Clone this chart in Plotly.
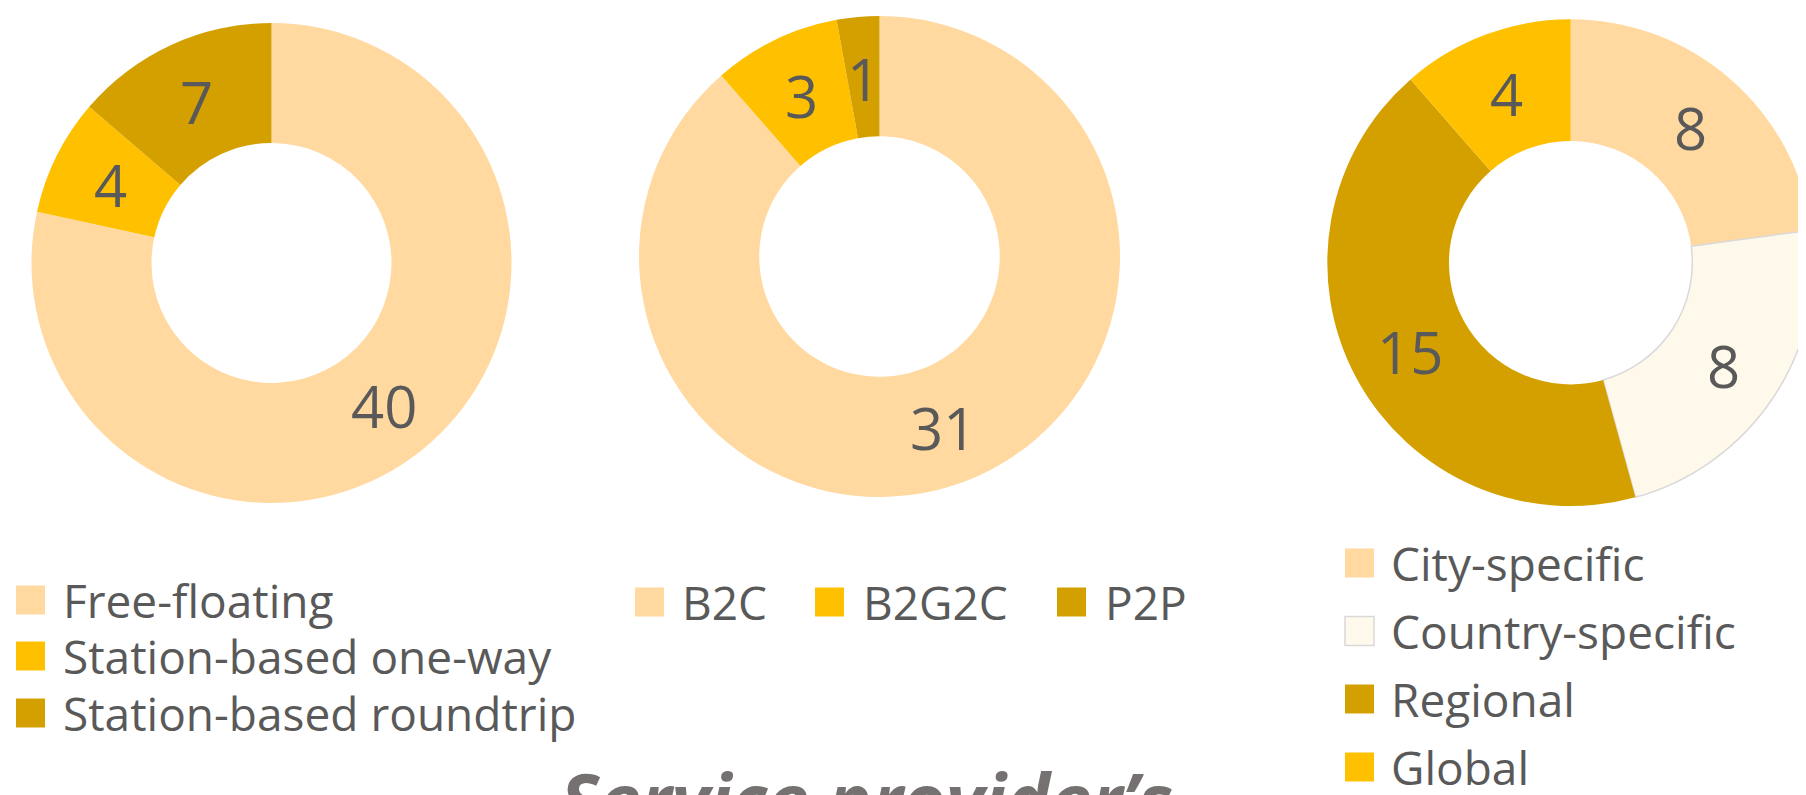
import math
import plotly.graph_objects as go

# ---------------- data ----------------
model_labels = ["Free-floating", "Station-based one-way", "Station-based roundtrip"]
model_values = [40, 4, 7]

business_labels = ["B2C", "B2G2C", "P2P"]
business_values = [31, 3, 1]

scope_labels = ["City-specific", "Country-specific", "Regional", "Global"]
scope_values = [8, 8, 15, 4]

bottom_title = "Service provider’s"

# ---------------- style / layout ----------------
W, H = 1806, 795
OFF = 8  # page margin of the html body; coordinates below are page pixels
PEACH, GOLD, DARK, CREAM, EDGE = "#FFD9A0", "#FFC000", "#D4A000", "#FFF9EC", "#D9D9D9"
TEXT = "#595959"
FONT = "Open Sans"
LABEL_SIZE = 58
LEGEND_SIZE = 46
SQ = 29

donuts = [
    dict(labels=model_labels, values=model_values, colors=[PEACH, GOLD, DARK],
         edges=[None, None, None], cx=271.5, cy=263.0, r=240.0),
    dict(labels=business_labels, values=business_values, colors=[PEACH, GOLD, DARK],
         edges=[None, None, None], cx=879.5, cy=256.5, r=240.5),
    dict(labels=scope_labels, values=scope_values, colors=[PEACH, CREAM, DARK, GOLD],
         edges=[None, EDGE, None, None], cx=1570.7, cy=262.7, r=243.4),
]
HOLE = 0.5

legends = [
    # (donut index, list of (square x0, text x, center y)) in page pixels
    (0, [(16, 61, 600), (16, 61, 656), (16, 61, 713)]),
    (1, [(635, 680, 602), (815, 861, 602), (1057, 1103, 602)]),
    (2, [(1345, 1389, 563), (1345, 1389, 631), (1345, 1389, 699), (1345, 1389, 767)]),
]


def px(x):
    return (x - OFF) / W


def py(y):
    return 1 - (y - OFF) / H


fig = go.Figure()
annotations = []
shapes = []

for d in donuts:
    cx, cy, r = d["cx"], d["cy"], d["r"]
    fig.add_trace(go.Pie(
        labels=d["labels"], values=d["values"], hole=HOLE, sort=False,
        direction="clockwise", rotation=0, textinfo="none", hoverinfo="label+value",
        showlegend=False,
        marker=dict(colors=d["colors"],
                    line=dict(color=[e or "rgba(0,0,0,0)" for e in d["edges"]],
                              width=[1.5 if e else 0 for e in d["edges"]])),
        domain=dict(x=[max(0, px(cx - r)), min(1, px(cx + r))],
                    y=[max(0, py(cy + r)), min(1, py(cy - r))]),
    ))
    # data labels at the middle of each ring segment
    total = sum(d["values"])
    cum = 0
    rm = r * (1 + HOLE) / 2
    for v in d["values"]:
        th = 2 * math.pi * (cum + v / 2) / total
        cum += v
        annotations.append(dict(
            x=px(cx + rm * math.sin(th)), y=py(cy - rm * math.cos(th)),
            xref="paper", yref="paper", text=str(v), showarrow=False,
            xanchor="center", yanchor="middle", yshift=-2,
            font=dict(family=FONT, size=LABEL_SIZE, color=TEXT)))

for di, items in legends:
    d = donuts[di]
    for (sx, tx, yc), lab, col, edge in zip(items, d["labels"], d["colors"], d["edges"]):
        shapes.append(dict(type="rect", xref="paper", yref="paper",
                           x0=px(sx), x1=px(sx + SQ), y0=py(yc + SQ / 2), y1=py(yc - SQ / 2),
                           fillcolor=col, line=dict(color=edge or col, width=1.5 if edge else 0)))
        annotations.append(dict(
            x=px(tx), y=py(yc), xref="paper", yref="paper", text=lab, showarrow=False,
            xanchor="left", yanchor="middle",
            font=dict(family=FONT, size=LEGEND_SIZE, color=TEXT)))

annotations.append(dict(
    x=px(558), y=py(746), xref="paper", yref="paper", text=bottom_title, showarrow=False,
    xanchor="left", yanchor="top",
    font=dict(family="Open Sans", size=74, color="#767171", weight="bold", style="italic")))

fig.update_layout(
    width=W, height=H, margin=dict(l=0, r=0, t=0, b=0),
    paper_bgcolor="white", plot_bgcolor="white",
    annotations=annotations, shapes=shapes,
)

fig.write_html("out.html")
